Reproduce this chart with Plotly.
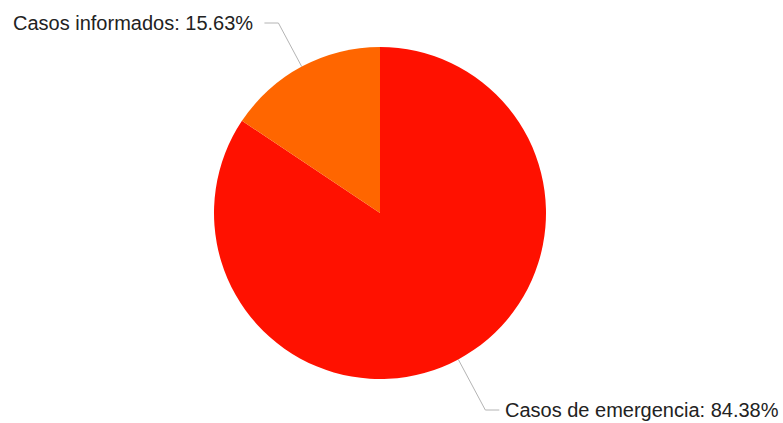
import math
import plotly.graph_objects as go

# Chart data
categories = ["Casos de emergencia", "Casos informados"]
shares = [84.38, 15.63]
slice_colors = ["#FF1100", "#FF6600"]

W, H = 783, 423
CX, CY, R = 380, 213, 166          # pie centre and radius in pixels
label_y = [410, 23]                # vertical placement of each callout


def px_x(x):
    return x / W


def px_y(y):
    return 1 - y / H


fig = go.Figure(
    go.Pie(
        labels=categories,
        values=shares,
        sort=False,
        direction="clockwise",
        rotation=0,
        marker=dict(colors=slice_colors, line=dict(width=0)),
        textinfo="none",
        hoverinfo="label+percent",
        domain=dict(x=[px_x(CX - R), px_x(CX + R)],
                    y=[px_y(CY + R), px_y(CY - R)]),
    )
)

# Callouts with leader lines placed from each slice's mid angle
total = sum(shares)
start = 0.0
shapes, annotations = [], []
for name, val, ly in zip(categories, shares, label_y):
    span = val / total * 360.0
    mid = math.radians(start + span / 2)
    start += span
    sx, sy = math.sin(mid), -math.cos(mid)
    x0, y0 = CX + R * sx, CY + R * sy
    # extend radially until the callout's row is reached
    t = (ly - y0) / sy
    ex, ey = x0 + t * sx, ly
    side = 1 if sx >= 0 else -1
    hx = ex + side * 14
    gap = 4 if side > 0 else 9
    path = (f"M {px_x(x0)} {px_y(y0)} L {px_x(ex)} {px_y(ey)} "
            f"L {px_x(hx)} {px_y(ey)}")
    shapes.append(dict(type="path", xref="paper", yref="paper", path=path,
                       line=dict(color="#b4b4b4", width=1)))
    annotations.append(dict(
        x=px_x(hx + side * gap), y=px_y(ly), xref="paper", yref="paper",
        text=f"{name}: {val:.2f}%", showarrow=False,
        xanchor="left" if side > 0 else "right", yanchor="middle",
        font=dict(family="Liberation Sans, Arial, sans-serif", size=20,
                  color="#222222"),
    ))

fig.update_layout(
    width=W, height=H,
    margin=dict(l=0, r=0, t=0, b=0),
    paper_bgcolor="white",
    plot_bgcolor="white",
    showlegend=False,
    shapes=shapes,
    annotations=annotations,
)

fig.write_html("out.html")
